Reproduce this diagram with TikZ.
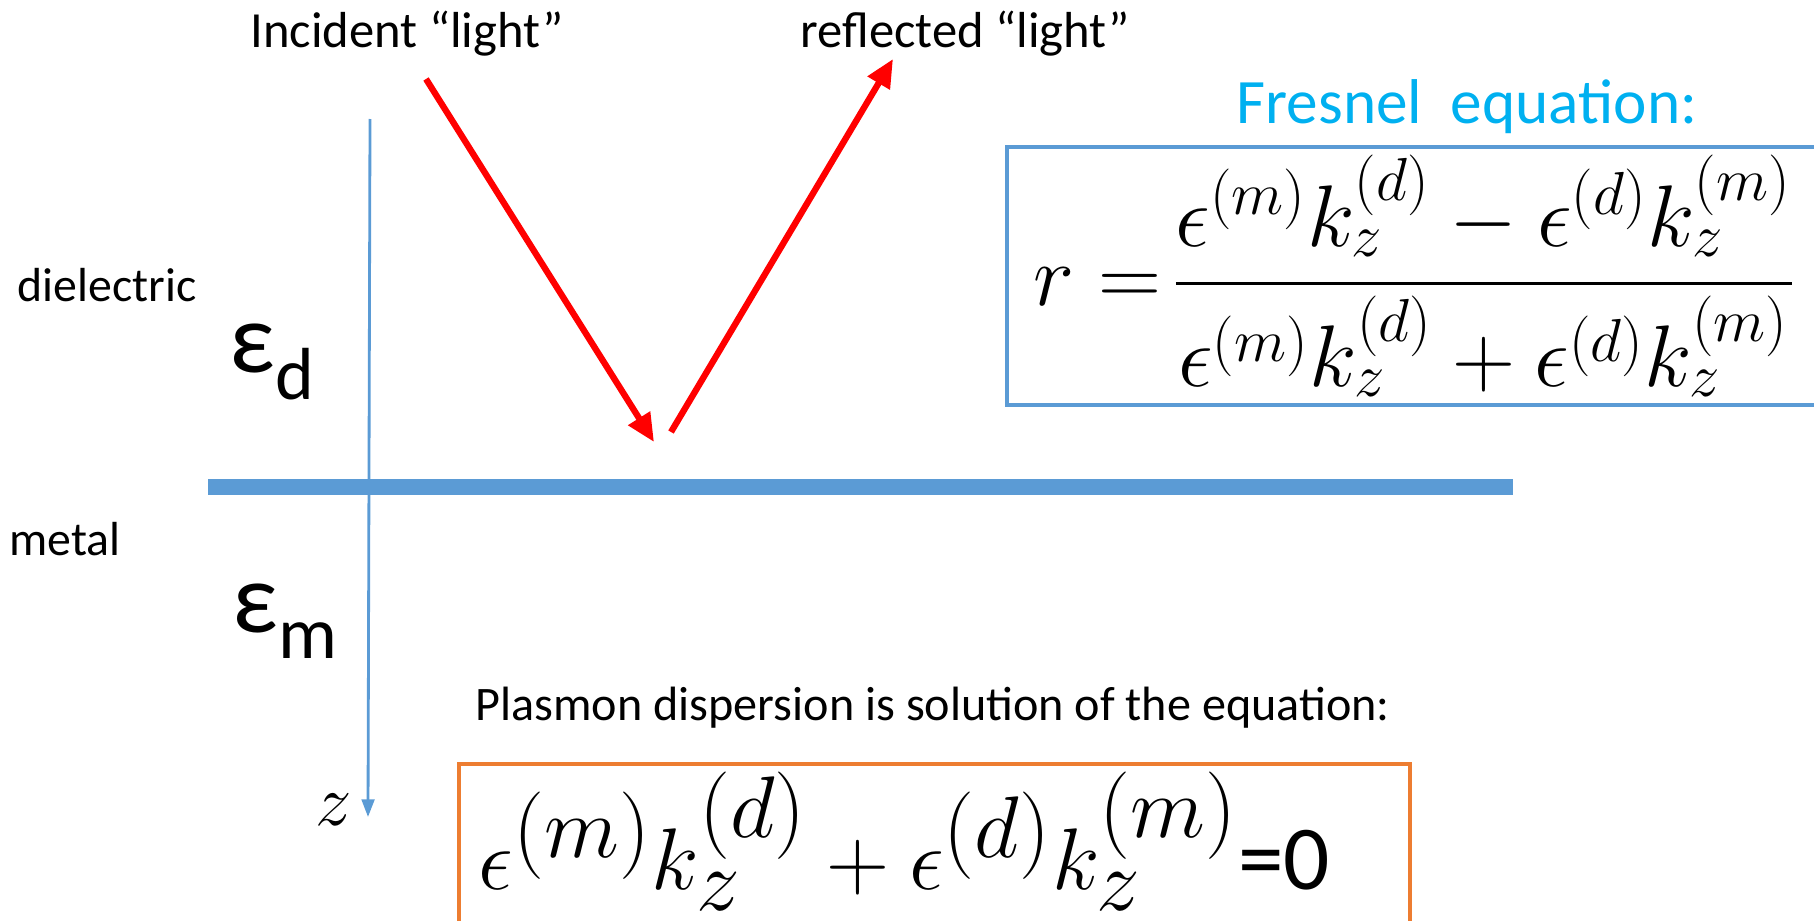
\documentclass[tikz,border=0pt]{standalone}
\usepackage[no-math]{fontspec}
\setmainfont{Carlito}
\usepackage{amsmath}
\usetikzlibrary{arrows.meta, positioning}
\definecolor{ifaceblue}{RGB}{91,155,213}
\definecolor{rayred}{RGB}{255,0,0}
\definecolor{fresnelcyan}{RGB}{0,176,240}
\definecolor{plasmonorange}{RGB}{237,125,49}

\begin{document}
\begin{tikzpicture}[
    lightray/.style={line width=1.8pt, rayred, -{Triangle[length=8pt, width=7pt]}},
    raylabel/.style={font=\fontsize{14.4}{16}\selectfont, anchor=base, inner sep=0pt},
    medium/.style={font=\fontsize{13.6}{15}\selectfont, anchor=base west, inner sep=0pt},
    epsnode/.style={font=\fontsize{28.5}{32}\selectfont, anchor=base west, inner sep=0pt}
]
    \useasboundingbox (0,0) rectangle (18.14,9.2);
    \clip (0,0) rectangle (18.14,9.2);
    % interface and z axis
    \coordinate (ifaceL) at (2.08,4.33);
    \coordinate (ifaceR) at (15.13,4.33);
    \draw[ifaceblue, line width=4.6pt] (ifaceL) -- (ifaceR);
    \coordinate (ztop) at (3.70,8.01);
    \coordinate (ztip) at (3.68,1.03);
    \draw[ifaceblue, line width=0.8pt, -{Triangle[length=5pt, width=3.6pt]}] (ztop) -- (ztip);
    \node[anchor=base east, inner sep=0pt, font=\fontsize{21}{23}\selectfont] (zlab) at (3.53,0.95) {$z$};
    % rays
    \coordinate (inStart) at (4.26,8.41);
    \coordinate (inEnd) at (6.54,4.78);
    \coordinate (outStart) at (6.71,4.88);
    \coordinate (outEnd) at (8.93,8.61);
    \draw[lightray] (inStart) -- (inEnd);
    \draw[lightray] (outStart) -- (outEnd);
    \node[raylabel] (incident) at (4.07,8.72) {Incident “light”};
    \node[raylabel] (reflected) at (9.65,8.72) {reflected “light”};
    % media
    \node[medium] (diel) at (0.17,6.19) {dielectric};
    \node[medium] (metal) at (0.09,3.65) {metal};
    \node[epsnode] (epsd) at (2.29,5.48) {ε\raisebox{-0.27cm}{\fontsize{21}{24}\selectfont d}};
    \node[epsnode] (epsm) at (2.32,2.88) {ε\raisebox{-0.26cm}{\fontsize{21}{24}\selectfont m}};
    % Fresnel equation
    \node[anchor=base, inner sep=0pt, text=fresnelcyan, font=\fontsize{18}{21}\selectfont] (fresnel) at (14.67,7.97) {Fresnel\ \ equation:};
    \draw[ifaceblue, line width=0.9pt] (10.07,5.15) rectangle (18.6,7.73);
    \node[anchor=west, inner sep=0pt, font=\fontsize{24}{28}\selectfont] (rfrac) at (10.33,6.44)
        {$r=\mskip-3mu\dfrac{\epsilon^{(m)}k_z^{(d)}-\epsilon^{(d)}k_z^{(m)}}{\epsilon^{(m)}k_z^{(d)}+\epsilon^{(d)}k_z^{(m)}}$};
    % plasmon condition
    \node[anchor=base west, inner sep=0pt, font=\fontsize{13.7}{16}\selectfont] (plasmon) at (4.75,2.00) {Plasmon dispersion is solution of the equation:};
    \draw[plasmonorange, line width=0.9pt] (4.59,-0.5) rectangle (14.10,1.56);
    \node[anchor=base west, inner sep=0pt, font=\fontsize{38}{42}\selectfont] (disp) at (4.78,0.31)
        {$\epsilon^{(m)}k_z^{(d)}+\epsilon^{(d)}k_z^{(m)}$\fontsize{26}{30}\selectfont=0};
\end{tikzpicture}
\end{document}
